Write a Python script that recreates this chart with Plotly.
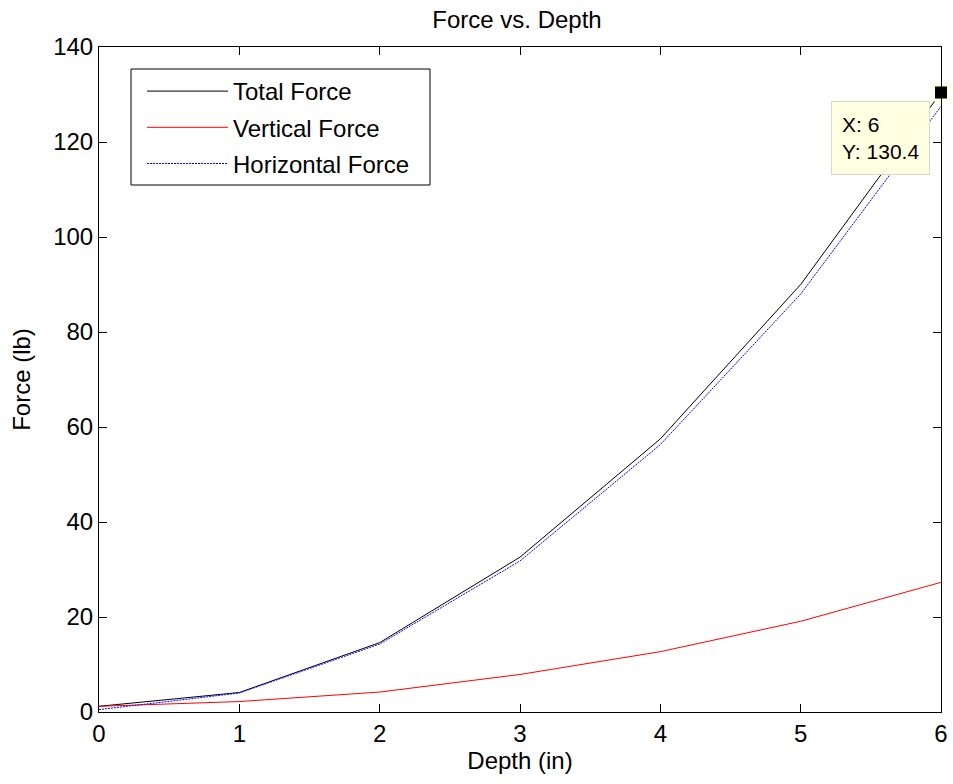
import plotly.graph_objects as go

depth = [0, 1, 2, 3, 4, 5, 6]
total_force = [1.2, 4.1, 14.6, 32.6, 57.5, 90.0, 130.4]
vertical_force = [1.2, 2.2, 4.2, 7.9, 12.7, 19.1, 27.3]
horizontal_force = [0.5, 4.0, 14.3, 31.8, 56.3, 88.0, 127.5]
x_ticks = [0, 1, 2, 3, 4, 5, 6]
y_ticks = [0, 20, 40, 60, 80, 100, 120, 140]

FONT = "Liberation Sans, Arial, sans-serif"
FS = 24
W, H = 953, 784
ML, MR, MT, MB = 99, 12, 47, 72
PW, PH = W - ML - MR, H - MT - MB


def px(xa):
    return (xa - ML) / PW


def py(ya):
    return (H - MB - ya) / PH


fig = go.Figure()
fig.add_trace(go.Scatter(x=depth, y=total_force, mode="lines", name="Total Force",
                         legendgroup="t", line=dict(color="black", width=1)))
fig.add_trace(go.Scatter(x=depth, y=vertical_force, mode="lines", name="Vertical Force",
                         legendgroup="v", line=dict(color="red", width=1)))
fig.add_trace(go.Scatter(x=depth, y=horizontal_force, mode="lines", name="Horizontal Force",
                         legendgroup="h", line=dict(color="#0000FF", width=1, dash="2px,1px")))
# data tip marker
fig.add_trace(go.Scatter(x=[depth[-1]], y=[total_force[-1]], mode="markers", showlegend=False,
                         marker=dict(symbol="square", size=15, color="black",
                                     line=dict(color="#FFFFE1", width=3)),
                         cliponaxis=False, hoverinfo="skip"))

fig.add_annotation(x=depth[-1], y=total_force[-1], xref="x", yref="y",
                   text=f"X: {depth[-1]}<br>Y: {total_force[-1]}",
                   showarrow=False, xanchor="right", yanchor="top", align="left",
                   valign="middle", width=77, height=52,
                   xshift=-11, yshift=-8,
                   bgcolor="#FFFFE1", bordercolor="#D8D8C8", borderwidth=1, borderpad=10,
                   font=dict(family=FONT, size=21, color="black"))

# legend frame
fig.add_shape(type="rect", xref="paper", yref="paper",
              x0=px(131), x1=px(430), y0=py(185), y1=py(69),
              line=dict(color="black", width=1), fillcolor="white", layer="above")

axis_common = dict(showgrid=False, zeroline=False, showline=True, linecolor="black",
                   linewidth=1, mirror="ticks", ticks="inside", ticklen=8,
                   tickcolor="black", automargin=False,
                   tickfont=dict(family=FONT, size=FS, color="black"))

fig.update_layout(
    width=W, height=H,
    paper_bgcolor="white", plot_bgcolor="white",
    margin=dict(l=ML, r=MR, t=MT, b=MB, autoexpand=False),
    title=dict(text="Force vs. Depth", x=517 / W, xanchor="center",
               y=1 - 20 / H, yref="container", yanchor="middle",
               font=dict(family=FONT, size=FS, color="black")),
    xaxis=dict(range=[0, 6], tickvals=x_ticks,
               title=dict(text="Depth (in)", font=dict(family=FONT, size=FS, color="black"),
                          standoff=4),
               **axis_common),
    yaxis=dict(range=[0, 140], tickvals=y_ticks,
               title=dict(text="Force (lb)", font=dict(family=FONT, size=FS, color="black"),
                          standoff=15),
               **axis_common),
    legend=dict(x=px(142), y=py(69), xanchor="left", yanchor="top",
                borderwidth=0, bgcolor="rgba(0,0,0,0)",
                font=dict(family=FONT, size=FS, color="black"),
                itemwidth=81, tracegroupgap=2),
    showlegend=True,
)

fig.write_html("out.html", config={"displayModeBar": False},
               post_script="document.body.style.margin='0px';")
